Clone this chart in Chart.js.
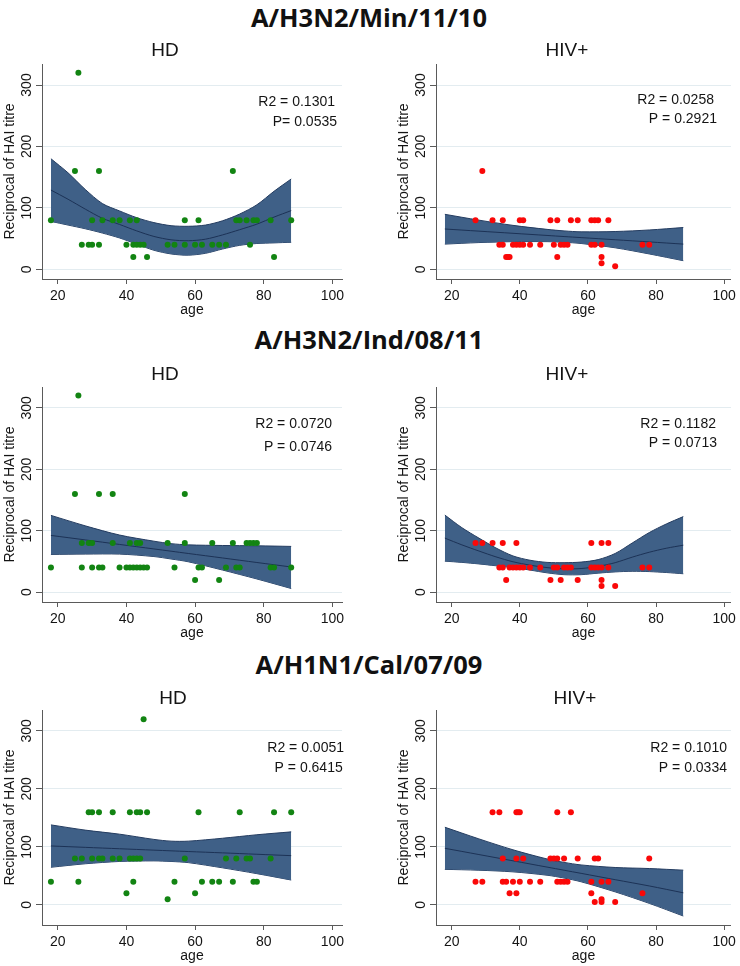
<!DOCTYPE html>
<html>
<head>
<meta charset="utf-8">
<script src="https://cdn.jsdelivr.net/npm/chart.js@4.4.1/dist/chart.umd.min.js"></script>
<style>
  body { margin: 0; background: #fff; width: 740px; height: 966px; position: relative; overflow: hidden; }
  .strain { position: absolute; left: 0; width: 738px; height: 30px; line-height: 30px; text-align: center;
            font: bold 25.5px 'Open Sans', sans-serif; color: #111; }
  canvas { position: absolute; }
</style>
</head>
<body>
<div class="strain" style="top:0px">A/H3N2/Min/11/10</div>
<div class="strain" style="top:322px">A/H3N2/Ind/08/11</div>
<div class="strain" style="top:647px">A/H1N1/Cal/07/09</div>

<canvas id="minHd" width="370" height="279" style="left:0px;top:40px"></canvas>
<canvas id="minHiv" width="346" height="279" style="left:394px;top:40px"></canvas>
<canvas id="indHd" width="370" height="282" style="left:0px;top:360px"></canvas>
<canvas id="indHiv" width="346" height="282" style="left:394px;top:360px"></canvas>
<canvas id="calHd" width="370" height="281" style="left:0px;top:684px"></canvas>
<canvas id="calHiv" width="346" height="281" style="left:394px;top:684px"></canvas>

<script>
// axis ticks
const ageTicks = [20, 40, 60, 80, 100];
const titreTicks = [0, 100, 200, 300];

// ages at which the fitted curve and its 95% band were read
const quadAges = [18, 23, 28, 33, 38, 43, 48, 53, 58, 63, 68, 73, 78, 83, 88];
const linAges = [18, 28, 38, 48, 53, 58, 68, 78, 88];

// A/H3N2/Min/11/10 - HD
const minHdAge = [18,25,26,27,29,30,30,32,32,33,36,38,40,41,42,42,43,43,44,45,46,52,54,57,57,60,61,62,65,67,69,71,72,73,75,76,77,78,82,83,88];
const minHdTitre = [80,160,320,40,40,40,80,40,160,80,80,80,40,80,20,40,40,80,40,40,20,40,40,40,80,40,80,40,40,40,40,160,80,80,80,40,80,80,80,20,80];
const minHdUpper = [180,157,130,107,95,84,76,71,70,72,79,90,105,127,147];
const minHdFit = [129,114,98,83,73,62.5,53.5,48,46.5,49,56,64.5,73.5,85,95.5];
const minHdLower = [78,72,66,59,51,41,31,25,23,26,33,39,42,43,44];

// A/H3N2/Min/11/10 - HIV+
const minHivAge = [27,29,32,34,35,35,36,36.5,37,38,39,40,40,41,41,43,46,49,50,51,51,52,53,54,55,57,61,61,62,62,63,64,64,64,66,68,76,78];
const minHivTitre = [80,160,80,40,40,80,20,20,20,40,40,40,80,40,80,40,40,80,40,20,80,40,40,40,80,80,40,80,40,80,80,10,20,40,80,5,40,40];
const minHivUpper = [89.5,80,71.5,65,62.5,61,61.5,64,68];
const minHivFit = [65.6,62.1,58.6,55.1,53.3,51.6,48.1,44.6,41];
const minHivLower = [41,43.5,45,45,44,42,35,25,14];

// A/H3N2/Ind/08/11 - HD
const indHdAge = [18,25,26,27,27,29,30,30,32,32,33,36,36,38,40,41,41,42,43,43,44,44,45,46,52,54,57,57,60,61,62,65,67,69,71,72,73,75,76,77,78,82,83,88];
const indHdTitre = [40,160,320,40,80,80,40,80,40,160,40,80,160,40,40,40,80,40,40,80,40,80,40,40,80,40,80,160,20,40,40,80,20,40,80,40,40,80,80,80,80,40,40,40];
const indHdUpper = [125,108,93,83,79,77,76,75.5,74.5];
const indHdFit = [92.4,85.1,77.7,70.4,66.7,63,55.7,48.3,41];
const indHdLower = [61.4,62,62,58,54,49.5,36,21.5,6];

// A/H3N2/Ind/08/11 - HIV+
const indHivAge = [27,29,32,34,35,35,36,37,38,39,39,40,41,43,46,49,50,51,52,53,54,55,57,61,61,62,63,64,64,64,64,66,66,68,76,78];
const indHivTitre = [80,80,80,40,40,80,20,40,40,40,80,40,40,40,40,20,40,40,20,40,40,40,20,40,80,40,40,10,20,40,80,40,80,10,40,40];
const indHivUpper = [125.5,105,88,72,59,52,48.5,48,49,53,63,80,97,111,123];
const indHivFit = [88,77,67,57.5,49.5,44,40,38,38.5,42,48,57,65,71.5,76.5];
const indHivLower = [50.5,48.5,46,43,40,36,31.5,28.5,28.5,31,33,34,33.5,32,30];

// A/H1N1/Cal/07/09 - HD
const calHdAge = [18,25,26,27,29,30,30,32,32,33,36,36,38,40,41,41,42,42,43,43,44,44,45,46,52,54,57,60,61,62,65,67,69,71,72,73,75,76,77,78,82,83,88];
const calHdTitre = [40,80,40,80,160,80,160,80,160,80,80,160,80,20,80,160,40,80,80,160,80,160,320,160,10,40,80,20,160,40,40,40,80,40,80,160,80,80,40,40,80,160,160];
const calHdUpper = [138,129,122,113,110,110,115,121,126];
const calHdFit = [101.7,99.3,96.9,94.5,93.3,92.1,89.8,87.4,85];
const calHdLower = [65,71,75,76,75,73,64,54,43];

// A/H1N1/Cal/07/09 - HIV+
const calHivAge = [27,29,32,34,35,35,36,37,38,39,39,39,39.5,40,40,41,43,46,49,50,51,51,51,52,53,53,54,55,57,61,61,62,62,63,64,64,64,66,68,76,78];
const calHivTitre = [40,40,160,160,40,80,40,20,40,20,80,160,160,40,160,80,40,40,80,80,40,80,160,40,40,80,40,160,80,20,40,5,80,80,5,10,40,40,5,20,80];
const calHivUpper = [134,113.9,95.1,79.3,73.4,69,64.6,62.8,60];
const calHivFit = [97.7,86.9,76.1,65.3,59.9,54.5,43.6,32.8,21];
const calHivLower = [61.4,59.9,57.1,51.3,46.4,40,22.6,2.8,-19];

const FONT = "'Liberation Sans', Arial, sans-serif";
const TEXT = '#141414';
const AXIS = '#5a5a5a';
const GRID = '#e3ecf0';
const BAND = 'rgb(63,96,135)';
const BAND_EDGE = 'rgb(36,60,96)';
const FIT = 'rgb(28,50,86)';
const GREEN = 'rgb(18,132,18)';
const RED = 'rgb(250,8,8)';

Chart.defaults.font.family = FONT;
Chart.defaults.color = TEXT;

const xy = (xs, ys) => xs.map((x, i) => ({x: x, y: ys[i]}));

// panel title, rotated y tick labels and the R2 / P note
const panelText = {
  id: 'panelText',
  afterDraw(chart, args, o) {
    const {ctx, chartArea: a, scales: {y}} = chart;
    ctx.save();
    ctx.fillStyle = TEXT;
    ctx.textBaseline = 'middle';
    ctx.textAlign = 'center';
    ctx.font = '19px ' + FONT;
    ctx.fillText(o.title, o.titleX, a.top + o.titleDy);

    ctx.font = '14px ' + FONT;
    y.ticks.forEach(t => {
      ctx.save();
      ctx.translate(a.left - 15, y.getPixelForValue(t.value));
      ctx.rotate(-Math.PI / 2);
      ctx.fillText(String(t.value), 0, 0);
      ctx.restore();
    });

    ctx.textAlign = 'right';
    ctx.fillText(o.r2, a.right + o.r2Dx, a.top + o.r2Dy);
    ctx.fillText(o.p, a.right + o.pDx, a.top + o.pDy);
    ctx.restore();
  }
};

function makePanel(id, p) {
  return new Chart(document.getElementById(id), {
    type: 'scatter',
    data: {
      datasets: [
        {
          type: 'line', data: xy(p.bandAges, p.lower), fill: false,
          borderColor: BAND_EDGE, borderWidth: 1, pointRadius: 0, tension: 0.3, order: 3
        },
        {
          type: 'line', data: xy(p.bandAges, p.upper), fill: '-1', backgroundColor: BAND,
          borderColor: BAND_EDGE, borderWidth: 1, pointRadius: 0, tension: 0.3, order: 2
        },
        {
          type: 'line', data: xy(p.bandAges, p.fit), fill: false,
          borderColor: FIT, borderWidth: 1, pointRadius: 0, tension: 0.3, order: 1
        },
        {
          data: xy(p.ages, p.titres), backgroundColor: p.color, borderWidth: 0,
          pointRadius: 3, order: 0
        }
      ]
    },
    options: {
      responsive: false,
      animation: false,
      events: [],
      layout: {padding: {top: p.padTop, right: p.padRight, bottom: 0, left: 0}},
      plugins: {
        legend: {display: false},
        tooltip: {enabled: false},
        panelText: p.text
      },
      scales: {
        x: {
          type: 'linear', min: 15.4, max: p.xMax,
          afterBuildTicks: s => { s.ticks = ageTicks.map(v => ({value: v})); },
          afterFit: s => { s.height = 40; },
          grid: {drawOnChartArea: false, drawTicks: true, tickLength: 5, tickColor: AXIS},
          border: {color: AXIS, width: 1},
          ticks: {font: {size: 14}, padding: 4, maxRotation: 0, color: TEXT},
          title: {display: true, text: 'age', font: {size: 14}, padding: 0, color: TEXT}
        },
        y: {
          type: 'linear', min: p.yMin, max: p.yMax,
          afterBuildTicks: s => { s.ticks = titreTicks.map(v => ({value: v})); },
          afterFit: s => { s.width = 42; },
          grid: {color: GRID, tickColor: AXIS, tickLength: 6, drawTicks: true},
          border: {color: AXIS, width: 1},
          ticks: {display: false},
          title: {display: true, text: 'Reciprocal of HAI titre', font: {size: 14},
                  padding: {top: 2, bottom: 0}, color: TEXT}
        }
      }
    },
    plugins: [panelText]
  });
}

makePanel('minHd', {
  ages: minHdAge, titres: minHdTitre, color: GREEN,
  bandAges: quadAges, upper: minHdUpper, fit: minHdFit, lower: minHdLower,
  padTop: 24, padRight: 28, xMax: 102.8, yMin: -15.8, yMax: 334.2,
  text: {title: 'HD', titleX: 165, titleDy: -13, r2: 'R2 = 0.1301', p: 'P= 0.0535',
         r2Dx: -7, r2Dy: 38, pDx: -5, pDy: 58}
});
makePanel('minHiv', {
  ages: minHivAge, titres: minHivTitre, color: RED,
  bandAges: linAges, upper: minHivUpper, fit: minHivFit, lower: minHivLower,
  padTop: 24, padRight: 7, xMax: 102.0, yMin: -15.8, yMax: 334.2,
  text: {title: 'HIV+', titleX: 173, titleDy: -13, r2: 'R2 = 0.0258', p: 'P = 0.2921',
         r2Dx: -17, r2Dy: 36, pDx: -14, pDy: 55}
});
makePanel('indHd', {
  ages: indHdAge, titres: indHdTitre, color: GREEN,
  bandAges: linAges, upper: indHdUpper, fit: indHdFit, lower: indHdLower,
  padTop: 27, padRight: 28, xMax: 102.8, yMin: -16, yMax: 334,
  text: {title: 'HD', titleX: 165, titleDy: -12, r2: 'R2 = 0.0720', p: 'P = 0.0746',
         r2Dx: -10, r2Dy: 37, pDx: -10, pDy: 59.7}
});
makePanel('indHiv', {
  ages: indHivAge, titres: indHivTitre, color: RED,
  bandAges: quadAges, upper: indHivUpper, fit: indHivFit, lower: indHivLower,
  padTop: 27, padRight: 7, xMax: 102.0, yMin: -16, yMax: 334,
  text: {title: 'HIV+', titleX: 173, titleDy: -12, r2: 'R2 = 0.1182', p: 'P = 0.0713',
         r2Dx: -15, r2Dy: 37, pDx: -14, pDy: 56}
});
makePanel('calHd', {
  ages: calHdAge, titres: calHdTitre, color: GREEN,
  bandAges: linAges, upper: calHdUpper, fit: calHdFit, lower: calHdLower,
  padTop: 26, padRight: 28, xMax: 102.8, yMin: -34.5, yMax: 336,
  text: {title: 'HD', titleX: 173, titleDy: -11.5, r2: 'R2 = 0.0051', p: 'P = 0.6415',
         r2Dx: 2, r2Dy: 37.7, pDx: 0.7, pDy: 58}
});
makePanel('calHiv', {
  ages: calHivAge, titres: calHivTitre, color: RED,
  bandAges: linAges, upper: calHivUpper, fit: calHivFit, lower: calHivLower,
  padTop: 26, padRight: 7, xMax: 102.0, yMin: -34.5, yMax: 336,
  text: {title: 'HIV+', titleX: 181, titleDy: -11.5, r2: 'R2 = 0.1010', p: 'P = 0.0334',
         r2Dx: -4, r2Dy: 37.7, pDx: -4, pDy: 58}
});
</script>
</body>
</html>
